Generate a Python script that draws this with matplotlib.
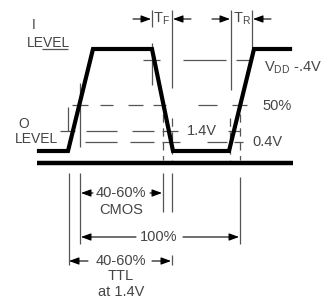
import matplotlib.pyplot as plt

plt.rcParams['font.family'] = ['Liberation Sans', 'DejaVu Sans']
plt.rcParams['lines.scale_dashes'] = False

# waveform corners (x) and the two logic levels (y, pixel rows from top)
wave_x = [39, 68, 93, 152, 173, 229, 254, 290]
wave_y = [151, 151, 49, 49, 151, 151, 49, 49]
base_x = [37, 293]
base_y = 163

# reference levels: (y, list of drawn segments)
level_vdd = (60, [(143, 160), (183, 226), (236, 250)])
level_50 = (105, [(72, 88), (100, 113), (128, 143), (153, 166), (198, 217), (232, 247)])
level_14 = (131, [(60, 75), (86, 117), (132, 154), (162, 178), (228, 240)])
level_04 = (142, [(85, 117), (130, 154), (162, 180), (207, 227), (234, 243)])
level_hi_mark = (49, [(42, 68)])

# vertical guide lines: x, y0, y1
guides = [(152, 10, 27), (152, 43, 85), (172, 10, 88), (231, 10, 90), (252, 10, 48),
          (68, 107, 131), (80, 83, 147),
          (69, 173, 265), (80, 173, 244), (163, 173, 212), (172, 173, 212),
          (172, 255, 265), (240, 177, 244)]
dashed_guides = [(163, 100, 160), (172, 118, 160), (230, 118, 160), (240, 100, 160)]

# dimension arrows: (tail, tip, y)
arrows = [(133, 151, 19), (191, 173, 19), (212, 230, 19), (271, 253, 19),
          (93, 81, 193), (150, 162, 193),
          (136, 81, 237), (183, 239, 237),
          (88, 69, 261), (152, 171, 261)]

labels = [('I', 34, 25), ('LEVEL', 48, 43), ('O', 24, 124), ('LEVEL', 36, 139),
          (r'$\mathregular{T_F}$', 161, 19), (r'$\mathregular{T_R}$', 242, 19),
          (r'$\mathregular{V_{DD}}$ -.4V', 293, 68), ('50%', 277, 106),
          ('1.4V', 202, 131), ('0.4V', 267, 142),
          ('40-60%', 121, 193), ('CMOS', 121, 210), ('100%', 159, 237),
          ('40-60%', 121, 261), ('TTL', 121, 276), ('at 1.4V', 121, 292)]

line_c = '#555555'
text_c = '#454545'

fig = plt.figure(figsize=(3.24, 3.01), dpi=100)
ax = fig.add_axes([0, 0, 1, 1])
ax.set_xlim(0, 324)
ax.set_ylim(301, 0)
ax.axis('off')

for y, segs in [level_vdd, level_50, level_14, level_04, level_hi_mark]:
    for x0, x1 in segs:
        ax.plot([x0, x1], [y, y], color=line_c, lw=0.9, solid_capstyle='butt')

for x, y0, y1 in guides:
    ax.plot([x, x], [y0, y1], color=line_c, lw=0.9, solid_capstyle='butt')
for x, y0, y1 in dashed_guides:
    ax.plot([x, x], [y0, y1], color=line_c, lw=0.9, dashes=(6, 4))

ax.plot(wave_x, wave_y, color='black', lw=3.0, solid_joinstyle='miter')
ax.plot(base_x, [base_y, base_y], color='black', lw=3.2, solid_capstyle='butt')

for tail, tip, y in arrows:
    ax.annotate('', xy=(tip, y), xytext=(tail, y),
                arrowprops=dict(arrowstyle='-|>,head_length=0.6,head_width=0.22',
                                color='black', lw=0.8, mutation_scale=10,
                                shrinkA=0, shrinkB=0))

for s, x, y in labels:
    fs = 10 if s in ('LEVEL', 'I', 'O') else 10.5
    ax.text(x, y, s, ha='center', va='center', fontsize=fs, color=text_c)

fig.savefig('out.png', dpi=100)
